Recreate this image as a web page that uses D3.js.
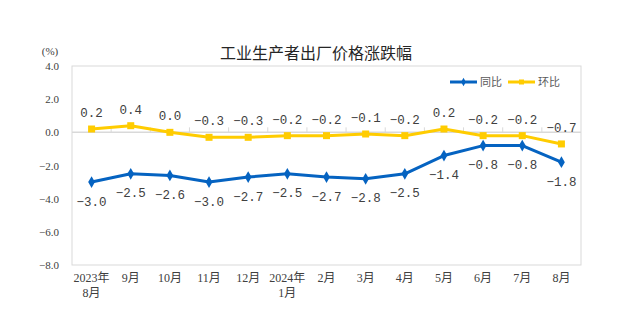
<!DOCTYPE html>
<html><head><meta charset="utf-8">
<script src="https://cdn.jsdelivr.net/npm/d3@7"></script>
<style>body{margin:0;background:#fff}svg{display:block}</style>
</head><body>
<svg id="c" width="640" height="326"></svg>
<script>
const categories = ["2023年\n8月","9月","10月","11月","12月","2024年\n1月","2月","3月","4月","5月","6月","7月","8月"];
const yoy = [-3.0,-2.5,-2.6,-3.0,-2.7,-2.5,-2.7,-2.8,-2.5,-1.4,-0.8,-0.8,-1.8];
const mom = [0.2,0.4,0.0,-0.3,-0.3,-0.2,-0.2,-0.1,-0.2,0.2,-0.2,-0.2,-0.7];
const yTicks = [4,2,0,-2,-4,-6,-8];
const seriesNames = ["同比","环比"];
const title = "工业生产者出厂价格涨跌幅";

const svg = d3.select("#c");
const L=72, R=581, T=66, B=265;
const x = d3.scaleBand().domain(categories).range([L,R]).padding(0);
const y = d3.scaleLinear().domain([-8,4]).range([B,T]);
const cx = c => x(c)+x.bandwidth()/2;
const blue="#0563C1", yellow="#FFCC00";
const serif = "'Liberation Serif','Noto Sans CJK SC',serif";

// plot border
svg.append("rect").attr("x",L).attr("y",T).attr("width",R-L).attr("height",B-T)
  .attr("fill","none").attr("stroke","#d9d9d9").attr("stroke-width",1);

// zero line
svg.append("line").attr("x1",L).attr("x2",R).attr("y1",y(0)).attr("y2",y(0))
  .attr("stroke","#d9d9d9").attr("stroke-width",1.5);
svg.append("g").selectAll("line").data(categories.slice(1)).join("line")
  .attr("x1",d=>x(d)).attr("x2",d=>x(d)).attr("y1",y(0)).attr("y2",y(0)-5)
  .attr("stroke","#d9d9d9").attr("stroke-width",1);

// y axis
const ya = svg.append("g").attr("transform",`translate(${L},0)`)
  .call(d3.axisLeft(y).tickValues(yTicks).tickSize(0).tickPadding(13).tickFormat(d3.format(".1f")));
ya.select(".domain").remove();
ya.selectAll("text").attr("font-family",serif).attr("font-size",11).attr("fill","#404040");

// x labels
const xl = svg.append("g").selectAll("text").data(categories).join("text")
  .attr("x",d=>cx(d)).attr("y",282).attr("text-anchor","middle")
  .attr("font-family",serif).attr("font-size",12).attr("fill","#404040");
xl.each(function(d){
  const parts=d.split("\n");
  const t=d3.select(this);
  parts.forEach((p,i)=>t.append("tspan").attr("x",cx(d)).attr("dy",i?15:0).text(p));
});

// lines
const line = d3.line().x((d,i)=>cx(categories[i])).y(d=>y(d));
svg.append("path").datum(yoy).attr("d",line).attr("fill","none").attr("stroke",blue).attr("stroke-width",3).attr("stroke-linejoin","round");
svg.append("path").datum(mom).attr("d",line).attr("fill","none").attr("stroke",yellow).attr("stroke-width",3).attr("stroke-linejoin","round");

// markers
const diamond = d3.symbol().type(d3.symbolDiamond).size(40);
svg.append("g").selectAll("path").data(yoy).join("path")
  .attr("d",diamond).attr("transform",(d,i)=>`translate(${cx(categories[i])},${y(d)})`).attr("fill",blue);
svg.append("g").selectAll("rect").data(mom).join("rect")
  .attr("x",(d,i)=>cx(categories[i])-3.5).attr("y",d=>y(d)-3.5).attr("width",7).attr("height",7).attr("fill",yellow);

// data labels
const mono = "'Liberation Mono','DejaVu Sans Mono',monospace";
svg.append("g").selectAll("text").data(yoy).join("text")
  .attr("x",(d,i)=>cx(categories[i])).attr("y",d=>y(d)+23.5).attr("text-anchor","middle")
  .attr("font-family",mono).attr("font-size",12.5).attr("fill","#404040").text(d=>d3.format(".1f")(d));
svg.append("g").selectAll("text").data(mom).join("text")
  .attr("x",(d,i)=>cx(categories[i])).attr("y",d=>y(d)-12).attr("text-anchor","middle")
  .attr("font-family",mono).attr("font-size",12.5).attr("fill","#404040").text(d=>d3.format(".1f")(d));

// title
svg.append("text").attr("x",316).attr("y",59).attr("text-anchor","middle")
  .attr("font-family","'Noto Sans CJK SC',sans-serif").attr("font-size",16).attr("fill","#262626").text(title);
svg.append("text").attr("x",50).attr("y",55).attr("text-anchor","middle")
  .attr("font-family",serif).attr("font-size",11).attr("fill","#404040").text("(%)");

// legend
const lg = [{n:seriesNames[0],c:blue,x:450,m:"d"},{n:seriesNames[1],c:yellow,x:508,m:"s"}];
const lgG = svg.append("g");
lg.forEach(o=>{
  lgG.append("line").attr("x1",o.x).attr("x2",o.x+27).attr("y1",82).attr("y2",82).attr("stroke",o.c).attr("stroke-width",3);
  if(o.m==="s") lgG.append("rect").attr("x",o.x+11).attr("y",79.5).attr("width",5).attr("height",5).attr("fill",o.c);
  else lgG.append("path").attr("d",d3.symbol().type(d3.symbolDiamond).size(20)).attr("transform",`translate(${o.x+13.5},82)`).attr("fill",o.c);
  lgG.append("text").attr("x",o.x+30).attr("y",86).attr("font-family","'Noto Sans CJK SC',sans-serif")
    .attr("font-size",11).attr("fill","#595959").text(o.n);
});
</script>
</body></html>
